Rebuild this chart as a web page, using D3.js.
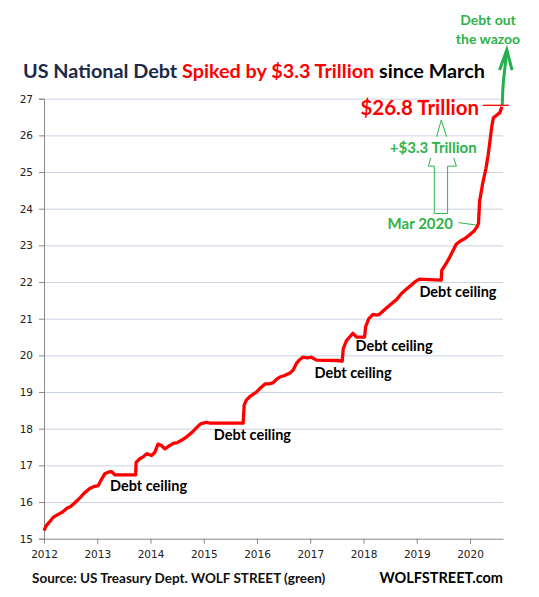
<!DOCTYPE html>
<html lang="en">
<head>
    <meta charset="UTF-8">
    <title>US National Debt</title>
    <script src="https://d3js.org/d3.v7.min.js"></script>
    <style>
        body { margin: 0; background: #fff; }
        svg { display: block; }
        .tick text { font-family: "DejaVu Sans", sans-serif; font-size: 10.5px; fill: #222; }
        .bold { font-family: Lato, "Open Sans", sans-serif; font-weight: bold; }
    </style>
</head>
<body>
    <svg width="539" height="597"></svg>

    <script>
        // debt in $ trillion (decimal year, value)
        const years = [
            2012.00, 2012.04, 2012.10, 2012.17, 2012.25, 2012.35, 2012.43, 2012.50, 2012.58, 2012.68,
            2012.76, 2012.86, 2012.95, 2013.02, 2013.08, 2013.14, 2013.22, 2013.27, 2013.33, 2013.72,
            2013.73, 2013.80, 2013.87, 2013.93, 2014.02, 2014.08, 2014.14, 2014.20, 2014.27, 2014.35,
            2014.43, 2014.50, 2014.60, 2014.68, 2014.78, 2014.88, 2014.95, 2015.05, 2015.12, 2015.74,
            2015.76, 2015.80, 2015.86, 2015.93, 2015.99, 2016.07, 2016.15, 2016.22, 2016.30, 2016.37,
            2016.43, 2016.52, 2016.62, 2016.68, 2016.74, 2016.80, 2016.86, 2016.95, 2017.02, 2017.12,
            2017.50, 2017.60, 2017.62, 2017.68, 2017.74, 2017.80, 2017.87, 2018.02, 2018.04, 2018.10,
            2018.18, 2018.25, 2018.30, 2018.40, 2018.52, 2018.62, 2018.71, 2018.80, 2018.90, 2018.98,
            2019.05, 2019.46, 2019.47, 2019.55, 2019.62, 2019.68, 2019.74, 2019.82, 2019.90, 2019.96,
            2020.02, 2020.08, 2020.13, 2020.16, 2020.18, 2020.24, 2020.30, 2020.34, 2020.38, 2020.41,
            2020.44, 2020.50, 2020.56, 2020.60
        ];
        const debt = [
            15.22, 15.35, 15.45, 15.58, 15.65, 15.73, 15.83, 15.88, 15.98, 16.12,
            16.25, 16.37, 16.43, 16.45, 16.62, 16.77, 16.82, 16.83, 16.74, 16.74,
            17.08, 17.18, 17.24, 17.32, 17.27, 17.35, 17.58, 17.55, 17.45, 17.53,
            17.60, 17.62, 17.70, 17.78, 17.90, 18.05, 18.14, 18.17, 18.15, 18.15,
            18.65, 18.78, 18.87, 18.94, 19.00, 19.12, 19.22, 19.22, 19.25, 19.35,
            19.41, 19.45, 19.52, 19.60, 19.78, 19.88, 19.95, 19.93, 19.95, 19.87,
            19.86, 19.84, 20.18, 20.40, 20.50, 20.60, 20.50, 20.50, 20.78, 21.00,
            21.12, 21.10, 21.12, 21.25, 21.40, 21.52, 21.68, 21.80, 21.92, 22.02,
            22.08, 22.05, 22.32, 22.50, 22.68, 22.85, 23.03, 23.12, 23.18, 23.25,
            23.32, 23.40, 23.50, 23.60, 24.20, 24.70, 25.10, 25.45, 25.90, 26.25,
            26.48, 26.55, 26.62, 26.78
        ];
        const yearTicks = [2012, 2013, 2014, 2015, 2016, 2017, 2018, 2019, 2020];
        const valueTicks = [15, 16, 17, 18, 19, 20, 21, 22, 23, 24, 25, 26, 27];

        // "debt out the wazoo" arrow, continuing past the top of the chart
        const wazooYears = [2020.606, 2020.615, 2020.63, 2020.668, 2020.692];
        const wazooValues = [26.83, 27.2, 27.51, 28.0, 28.33];

        // "Debt ceiling" labels: [year of left edge, value]
        const ceilingLabels = [[2013.24, 16.44], [2015.19, 17.83], [2017.08, 19.51], [2017.85, 20.26], [2019.05, 21.72]];

        const svg = d3.select("svg");
        const mLeft = 44, mRight = 503, mTop = 98.7, mBottom = 538.7;

        const x = d3.scaleLinear().domain([2012, 2020.62]).range([mLeft, mRight]);
        const y = d3.scaleLinear().domain([15, 27]).range([mBottom, mTop]);

        // grid
        svg.append("g")
            .attr("transform", `translate(${mLeft},0)`)
            .call(d3.axisLeft(y).tickValues(valueTicks.slice(1)).tickSize(-(mRight - mLeft)).tickFormat(""))
            .call(g => g.select(".domain").remove())
            .call(g => g.selectAll("line").attr("stroke", "#c9d3e2").attr("stroke-width", 1));

        // axes
        svg.append("g")
            .attr("transform", `translate(${mLeft},0)`)
            .call(d3.axisLeft(y).tickValues(valueTicks).tickSize(5).tickPadding(6).tickFormat(d3.format("d")))
            .call(g => g.selectAll("line, path").attr("stroke", "#888"));

        svg.append("g")
            .attr("transform", `translate(0,${mBottom})`)
            .call(d3.axisBottom(x).tickValues(yearTicks).tickSize(5).tickSizeOuter(0).tickPadding(7).tickFormat(d3.format("d")))
            .call(g => g.selectAll("line, path").attr("stroke", "#888"));

        // debt line
        const line = d3.line().x(d => x(d[0])).y(d => y(d[1]));
        svg.append("path")
            .datum(d3.zip(years, debt))
            .attr("d", line)
            .attr("fill", "none")
            .attr("stroke", "#ff0000")
            .attr("stroke-width", 3.3)
            .attr("stroke-linejoin", "round");

        // green wazoo arrow
        const green = "#2db34a";
        svg.append("path")
            .datum(d3.zip(wazooYears, wazooValues))
            .attr("d", line)
            .attr("fill", "none")
            .attr("stroke", "#22b14c")
            .attr("stroke-width", 3);
        svg.append("path")
            .datum([[2020.555, 27.78], [2020.692, 28.33], [2020.79, 27.78]])
            .attr("d", line)
            .attr("fill", "none")
            .attr("stroke", "#22b14c")
            .attr("stroke-width", 3);

        // debt ceiling labels
        svg.selectAll(".ceil")
            .data(ceilingLabels)
            .join("text")
            .attr("class", "ceil bold")
            .attr("x", d => x(d[0]))
            .attr("y", d => y(d[1]))
            .attr("dy", "0.35em")
            .attr("font-size", 14.5)
            .attr("fill", "#000")
            .text("Debt ceiling");

        // $26.8 Trillion
        svg.append("text")
            .attr("class", "bold")
            .attr("x", x(2020.17)).attr("y", y(26.76)).attr("dy", "0.35em")
            .attr("text-anchor", "end")
            .attr("font-size", 20.5).attr("fill", "#ff0000")
            .text("$26.8 Trillion");
        svg.append("line")
            .attr("x1", x(2020.24)).attr("x2", x(2020.73))
            .attr("y1", y(26.82)).attr("y2", y(26.82))
            .attr("stroke", "#ff0000").attr("stroke-width", 1.3);

        // +$3.3 Trillion block arrow
        const arrowPts = [
            [2019.46, 26.415], [2019.745, 25.16], [2019.58, 25.16], [2019.58, 23.87],
            [2019.33, 23.87], [2019.33, 25.16], [2019.22, 25.16]
        ];
        svg.append("path")
            .attr("d", line(arrowPts) + "Z")
            .attr("fill", "none")
            .attr("stroke", green)
            .attr("stroke-width", 1);
        svg.append("rect")
            .attr("x", x(2019.12)).attr("y", y(25.96))
            .attr("width", x(2020.2) - x(2019.12)).attr("height", y(25.38) - y(25.96))
            .attr("fill", "#fff");
        svg.append("text")
            .attr("class", "bold")
            .attr("x", x(2019.31)).attr("y", y(25.65)).attr("dy", "0.35em")
            .attr("text-anchor", "middle")
            .attr("font-size", 15).attr("fill", green)
            .text("+$3.3 Trillion");

        // Mar 2020
        svg.append("text")
            .attr("class", "bold")
            .attr("x", x(2019.68)).attr("y", y(23.6)).attr("dy", "0.35em")
            .attr("text-anchor", "end")
            .attr("font-size", 15).attr("fill", green)
            .text("Mar 2020");
        svg.append("line")
            .attr("x1", x(2019.785)).attr("y1", y(23.62))
            .attr("x2", x(2020.117)).attr("y2", y(23.555))
            .attr("stroke", green).attr("stroke-width", 1);

        // title
        const title = svg.append("text")
            .attr("class", "bold")
            .attr("x", 23).attr("y", 78)
            .attr("font-size", 19.8);
        title.append("tspan").attr("fill", "#1b2a47").text("US National  Debt ");
        title.append("tspan").attr("fill", "#ff0000").text("Spiked  by $3.3 Trillion ");
        title.append("tspan").attr("fill", "#000").text(" since March");

        // wazoo text
        svg.append("text")
            .attr("class", "bold")
            .attr("x", 488).attr("y", 25)
            .attr("text-anchor", "middle")
            .attr("font-size", 14).attr("fill", green)
            .text("Debt out");
        svg.append("text")
            .attr("class", "bold")
            .attr("x", 488).attr("y", 44)
            .attr("text-anchor", "middle")
            .attr("font-size", 14).attr("fill", green)
            .text("the wazoo");

        // footer
        svg.append("text")
            .attr("class", "bold")
            .attr("x", 32).attr("y", 583)
            .attr("font-size", 13.5).attr("fill", "#111")
            .text("Source: US Treasury Dept. WOLF STREET (green)");
        svg.append("text")
            .attr("class", "bold")
            .attr("x", 503).attr("y", 583)
            .attr("text-anchor", "end")
            .attr("font-size", 14.5).attr("fill", "#000")
            .text("WOLFSTREET.com");
    </script>
</body>
</html>
